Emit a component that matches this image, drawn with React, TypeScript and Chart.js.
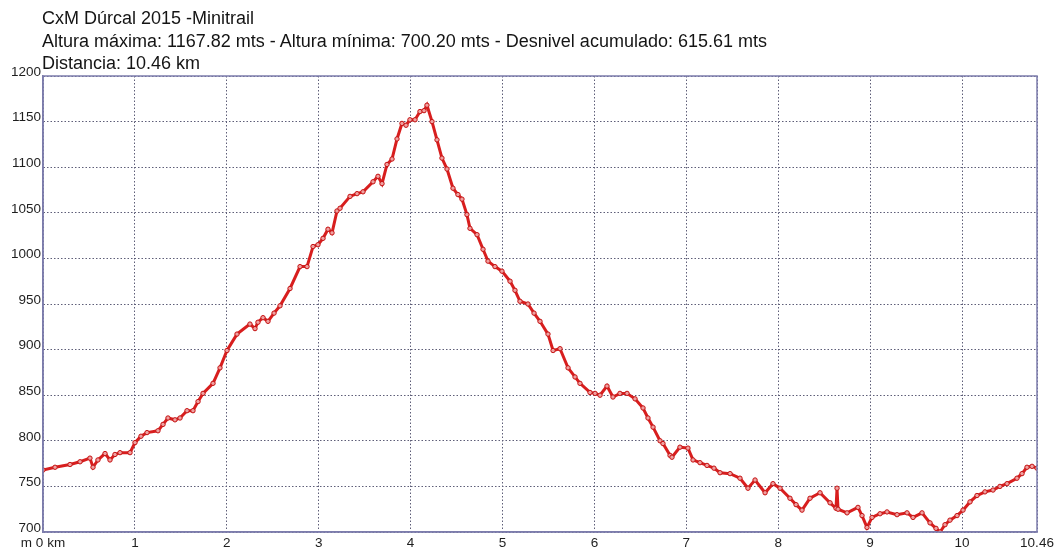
import React, { useEffect, useRef } from "react";
import { Chart, registerables } from "chart.js";

Chart.register(...registerables);

// Distance along the profile (plot position in km units, as drawn in the reference)
const distances: number[] = [
  0.0, 0.131, 0.294, 0.403, 0.511, 0.544, 0.598, 0.675, 0.729, 0.783, 0.838, 0.947,
  1.001, 1.066, 1.132, 1.251, 1.306, 1.36, 1.436, 1.491, 1.567, 1.632, 1.687, 1.741,
  1.85, 1.926, 2.002, 2.111, 2.252, 2.307, 2.339, 2.394, 2.448, 2.514, 2.579, 2.688,
  2.797, 2.873, 2.938, 2.992, 3.047, 3.101, 3.145, 3.199, 3.232, 3.341, 3.417, 3.482,
  3.591, 3.645, 3.689, 3.743, 3.798, 3.852, 3.906, 3.95, 3.993, 4.048, 4.102, 4.146,
  4.178, 4.233, 4.287, 4.341, 4.396, 4.461, 4.515, 4.559, 4.613, 4.646, 4.723, 4.788,
  4.842, 4.918, 4.994, 5.082, 5.136, 5.19, 5.277, 5.343, 5.408, 5.495, 5.55, 5.626,
  5.713, 5.789, 5.843, 5.952, 6.007, 6.061, 6.137, 6.202, 6.278, 6.355, 6.442, 6.529,
  6.583, 6.638, 6.714, 6.746, 6.823, 6.844, 6.931, 7.018, 7.073, 7.149, 7.225, 7.301,
  7.367, 7.476, 7.584, 7.671, 7.748, 7.857, 7.943, 8.02, 8.128, 8.194, 8.259, 8.346,
  8.455, 8.564, 8.629, 8.64, 8.651, 8.749, 8.868, 8.912, 8.966, 9.021, 9.108, 9.184,
  9.293, 9.402, 9.467, 9.565, 9.652, 9.717, 9.761, 9.815, 9.869, 9.946, 10.011, 10.087,
  10.163, 10.25, 10.337, 10.413, 10.49, 10.598, 10.653, 10.707, 10.762, 10.816,
];

// Altitude in metres
const altitudes: number[] = [
  768, 771, 774, 777, 781, 771, 779, 786, 779, 785, 787, 787,
  798, 805, 809, 811, 818, 825, 823, 825, 833, 833, 843, 852,
  863, 880, 899, 917, 928, 923, 930, 935, 931, 940, 948, 967,
  991, 991, 1013, 1015, 1022, 1032, 1028, 1052, 1055, 1068, 1071, 1073,
  1084, 1090, 1082, 1103, 1109, 1131, 1148, 1146, 1152, 1152, 1161, 1162,
  1168, 1150, 1130, 1110, 1098, 1077, 1070, 1065, 1048, 1033, 1026, 1010,
  997, 991, 986, 975, 965, 953, 950, 940, 931, 917, 899, 901,
  880, 870, 863, 853, 852, 850, 860, 848, 852, 852, 846, 836,
  825, 815, 800, 797, 784, 782, 793, 792, 779, 776, 773, 770,
  765, 764, 759, 748, 757, 743, 753, 748, 737, 730, 724, 737,
  743, 732, 726, 748, 725, 721, 727, 718, 705, 716, 720, 722,
  719, 721, 716, 721, 710, 704, 700, 708, 713, 718, 724, 733,
  740, 744, 746, 750, 753, 759, 764, 771, 772, 770,
];

const xTickValues: number[] = [0, 1, 2, 3, 4, 5, 6, 7, 8, 9, 10, 10.816];
const xTickLabels: string[] = ["m 0 km", "1", "2", "3", "4", "5", "6", "7", "8", "9", "10", "10.46"];

const titleLines: string[] = [
  "CxM Dúrcal 2015 -Minitrail",
  "Altura máxima: 1167.82 mts - Altura mínima: 700.20 mts - Desnivel acumulado: 615.61 mts",
  "Distancia: 10.46 km",
];

const FONT = "'Liberation Sans', Arial, sans-serif";

export default function App() {
  const canvasRef = useRef<HTMLCanvasElement | null>(null);

  useEffect(() => {
    document.body.style.margin = "0";
    const canvas = canvasRef.current;
    if (!canvas) return;

    const framePlugin = {
      id: "frame",
      afterDraw(chart: any) {
        const { ctx, chartArea } = chart;
        ctx.save();
        ctx.strokeStyle = "#7c7cac";
        ctx.lineWidth = 1.5;
        ctx.setLineDash([]);
        ctx.strokeRect(chartArea.left, chartArea.top, chartArea.right - chartArea.left, chartArea.bottom - chartArea.top);
        ctx.restore();
      },
    };

    const chart = new Chart(canvas, {
      type: "line",
      data: {
        datasets: [
          {
            data: distances.map((d, i) => ({ x: d, y: altitudes[i] })),
            borderColor: "#d81e1e",
            borderWidth: 3,
            pointRadius: 2.2,
            pointBorderWidth: 1,
            pointBorderColor: "#c41212",
            pointBackgroundColor: "#f0a0a0",
            tension: 0,
          },
        ],
      },
      options: {
        animation: false,
        responsive: false,
        events: [],
        layout: { padding: { top: 76, right: 20, left: 0, bottom: 0 } },
        plugins: {
          legend: { display: false },
          tooltip: { enabled: false },
          title: { display: false },
        },
        scales: {
          x: {
            type: "linear",
            min: 0,
            max: 10.816,
            afterBuildTicks: (scale: any) => {
              scale.ticks = xTickValues.map((v) => ({ value: v }));
            },
            afterFit: (scale: any) => {
              scale.height = 20;
            },
            ticks: {
              autoSkip: false,
              maxRotation: 0,
              padding: 3,
              color: "#1e1e1e",
              font: { family: FONT, size: 13.5 },
              callback: (value: any) => {
                const idx = xTickValues.indexOf(Number(value));
                return idx >= 0 ? xTickLabels[idx] : "";
              },
            },
            grid: { color: "#5e5e78", lineWidth: 1, drawTicks: false },
            border: { display: true, color: "#7c7cac", width: 1.5, dash: [1.5, 2] },
          },
          y: {
            type: "linear",
            min: 700,
            max: 1200,
            afterFit: (scale: any) => {
              scale.width = 43;
            },
            ticks: {
              stepSize: 50,
              padding: 2,
              labelOffset: -4,
              color: "#1e1e1e",
              font: { family: FONT, size: 13.5 },
              callback: (value: any) => String(value),
            },
            grid: { color: "#5e5e78", lineWidth: 1, drawTicks: false },
            border: { display: true, color: "#7c7cac", width: 1.5, dash: [1.5, 2] },
          },
        },
      },
      plugins: [framePlugin],
    });

    return () => {
      chart.destroy();
    };
  }, []);

  return (
    <div style={{ position: "relative", width: 1057, height: 552, background: "#fff", overflow: "hidden" }}>
      <canvas ref={canvasRef} width={1057} height={552} style={{ position: "absolute", left: 0, top: 0 }} />
      <div
        style={{
          position: "absolute",
          left: 42,
          top: 7,
          fontFamily: FONT,
          fontSize: 18,
          lineHeight: "22.5px",
          color: "#141414",
          whiteSpace: "nowrap",
        }}
      >
        {titleLines.map((t, i) => (
          <div key={i}>{t}</div>
        ))}
      </div>
    </div>
  );
}
